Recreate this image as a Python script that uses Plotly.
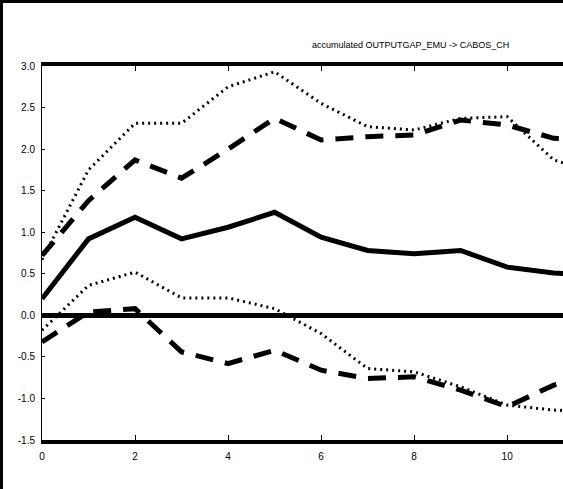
import plotly.graph_objects as go

steps = list(range(0, 13))
response = [0.20, 0.92, 1.18, 0.92, 1.06, 1.24, 0.94, 0.78, 0.74, 0.78, 0.58, 0.51, 0.48]
upper_band = [0.72, 1.38, 1.87, 1.65, 2.00, 2.37, 2.11, 2.15, 2.17, 2.35, 2.29, 2.13, 2.12]
lower_band = [-0.32, 0.04, 0.08, -0.44, -0.58, -0.42, -0.66, -0.76, -0.74, -0.90, -1.10, -0.84, -0.70]
upper_outer = [0.67, 1.75, 2.31, 2.31, 2.75, 2.93, 2.55, 2.27, 2.23, 2.37, 2.39, 1.87, 1.70]
lower_outer = [-0.18, 0.36, 0.52, 0.21, 0.21, 0.08, -0.22, -0.64, -0.68, -0.86, -1.08, -1.14, -1.16]

y_ticks = [3.0, 2.5, 2.0, 1.5, 1.0, 0.5, 0.0, -0.5, -1.0, -1.5]
y_labels = ["3.0", "2.5", "2.0", "1.5", "1.0", "0.5", "0.0", "-0.5", "-1.0", "-1.5"]
x_ticks = [0, 2, 4, 6, 8, 10]
title_text = "accumulated OUTPUTGAP_EMU -> CABOS_CH"

W, H = 563, 489
ML, MR, MT, MB = 42, 0, 66, 49
PW, PH = W - ML - MR, H - MT - MB

fig = go.Figure()
fig.add_trace(go.Scatter(x=steps, y=upper_outer, mode="lines",
                         line=dict(color="black", width=3, dash="2px,4px")))
fig.add_trace(go.Scatter(x=steps, y=lower_outer, mode="lines",
                         line=dict(color="black", width=3, dash="2px,4px")))
fig.add_trace(go.Scatter(x=steps, y=upper_band, mode="lines",
                         line=dict(color="black", width=5, dash="18px,12px")))
fig.add_trace(go.Scatter(x=steps, y=lower_band, mode="lines",
                         line=dict(color="black", width=5, dash="18px,12px")))
fig.add_trace(go.Scatter(x=steps, y=response, mode="lines",
                         line=dict(color="black", width=5)))

tick_font = dict(family="Liberation Sans Narrow, Liberation Sans, sans-serif", size=10, color="black")

fig.update_layout(
    width=W, height=H,
    margin=dict(l=ML, r=MR, t=MT, b=MB, pad=0),
    paper_bgcolor="white", plot_bgcolor="white",
    showlegend=False,
    xaxis=dict(range=[0, 11.2], tickvals=x_ticks, ticktext=[str(v) for v in x_ticks],
               showgrid=False, zeroline=False, showline=True, linecolor="black", linewidth=4,
               mirror="ticks", ticks="inside", ticklen=5, tickwidth=1, tickcolor="black",
               tickfont=tick_font, ticklabelstandoff=4),
    yaxis=dict(range=[-1.5, 3.0], tickvals=y_ticks, ticktext=y_labels,
               showgrid=False, zeroline=True, zerolinecolor="black", zerolinewidth=5,
               showline=True, linecolor="black", linewidth=1,
               ticks="inside", ticklen=3, tickwidth=1, tickcolor="black",
               tickfont=tick_font, ticklabelstandoff=4),
    annotations=[dict(text=title_text, xref="paper", yref="paper",
                      x=(410 - ML) / PW, y=1 + (MT - 45) / PH, showarrow=False,
                      xanchor="center", yanchor="middle",
                      font=dict(family="Liberation Sans Narrow, Liberation Sans, sans-serif",
                                size=9, color="black"))],
    shapes=[
        dict(type="line", xref="paper", yref="paper", x0=-ML / PW, x1=1, y0=1 + (MT - 1.5) / PH,
             y1=1 + (MT - 1.5) / PH, line=dict(color="black", width=3)),
        dict(type="line", xref="paper", yref="paper", x0=-(ML - 1.5) / PW, x1=-(ML - 1.5) / PW,
             y0=-MB / PH, y1=1 + MT / PH, line=dict(color="black", width=3)),
    ],
)

fig.write_html("out.html")
